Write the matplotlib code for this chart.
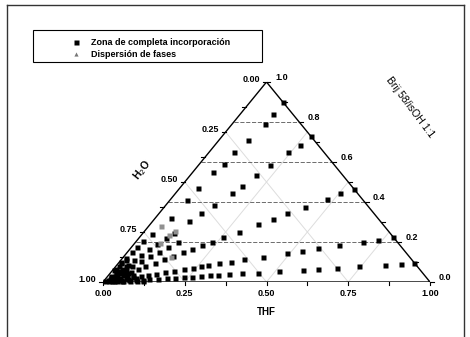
import numpy as np
import matplotlib.pyplot as plt
from matplotlib.lines import Line2D
from matplotlib.patches import Rectangle

plt.rcParams['font.family'] = ['Liberation Sans', 'DejaVu Sans']

# Compositions (mass fractions) of THF and Brij 58/isOH 1:1; water is the rest.
# Each series is one dilution line with water at a fixed THF:Brij ratio.
thf_r1 = [0.905, 0.865, 0.82, 0.745, 0.68, 0.625, 0.58, 0.51, 0.45, 0.405, 0.365, 0.335,
          0.31, 0.285, 0.26, 0.235, 0.21, 0.185, 0.16, 0.135, 0.115, 0.095, 0.075, 0.055,
          0.04, 0.025]
brij_r1 = [0.095, 0.09, 0.085, 0.078, 0.071, 0.066, 0.061, 0.054, 0.047, 0.043, 0.038, 0.035,
           0.033, 0.03, 0.027, 0.025, 0.022, 0.019, 0.017, 0.014, 0.012, 0.01, 0.008, 0.006,
           0.004, 0.003]

thf_r2 = [0.775, 0.735, 0.695, 0.63, 0.572, 0.53, 0.49, 0.426, 0.373, 0.34, 0.307, 0.278,
          0.262, 0.24, 0.215, 0.19, 0.165, 0.14, 0.12, 0.1, 0.08, 0.06, 0.045, 0.03, 0.015]
brij_r2 = [0.225, 0.21, 0.2, 0.185, 0.17, 0.156, 0.145, 0.126, 0.115, 0.1, 0.093, 0.085,
           0.078, 0.071, 0.064, 0.056, 0.049, 0.042, 0.036, 0.03, 0.024, 0.018, 0.013, 0.009,
           0.005]

thf_r3 = [0.535, 0.5, 0.476, 0.43, 0.39, 0.36, 0.33, 0.29, 0.254, 0.233, 0.21, 0.19, 0.17,
          0.15, 0.13, 0.11, 0.09, 0.075, 0.06, 0.045, 0.03, 0.015]
brij_r3 = [0.465, 0.447, 0.417, 0.377, 0.347, 0.317, 0.29, 0.25, 0.226, 0.2, 0.186, 0.165,
           0.148, 0.13, 0.113, 0.096, 0.078, 0.065, 0.052, 0.039, 0.026, 0.013]

thf_r4 = [0.27, 0.26, 0.242, 0.22, 0.2, 0.184, 0.17, 0.146, 0.127, 0.11, 0.094, 0.082, 0.07,
          0.06, 0.05, 0.04, 0.03, 0.02, 0.01]
brij_r4 = [0.73, 0.683, 0.648, 0.583, 0.533, 0.482, 0.447, 0.387, 0.347, 0.307, 0.246, 0.22,
           0.19, 0.163, 0.135, 0.108, 0.081, 0.054, 0.027]

thf_r5 = [0.1, 0.1, 0.1, 0.089, 0.077, 0.076, 0.062, 0.055, 0.05, 0.048, 0.03, 0.02, 0.016,
          0.013, 0.011, 0.009, 0.006]
brij_r5 = [0.9, 0.84, 0.79, 0.71, 0.65, 0.59, 0.55, 0.472, 0.412, 0.32, 0.24, 0.206, 0.176,
           0.15, 0.12, 0.095, 0.065]

thf_r6 = [0.13, 0.11, 0.095, 0.08, 0.065, 0.05, 0.035, 0.02]
brij_r6 = [0.2, 0.175, 0.15, 0.128, 0.105, 0.08, 0.056, 0.032]

# water-rich corner, where the dilution lines crowd together
thf_corner = [0.005, 0.01, 0.015, 0.02, 0.03, 0.01, 0.02, 0.04, 0.05, 0.06, 0.015, 0.03,
              0.045, 0.06, 0.07, 0.08, 0.005, 0.01, 0.025, 0.04, 0.1, 0.12, 0.005, 0.015,
              0.035, 0.055, 0.09, 0.075]
brij_corner = [0.005, 0.01, 0.02, 0.01, 0.005, 0.03, 0.04, 0.02, 0.01, 0.005, 0.05, 0.045,
               0.035, 0.025, 0.015, 0.005, 0.06, 0.08, 0.065, 0.06, 0.005, 0.003, 0.1, 0.11,
               0.085, 0.045, 0.02, 0.035]

# lighter points in the water-rich corner
thf_grey = [0.037, 0.084, 0.092, 0.076, 0.145]
brij_grey = [0.281, 0.236, 0.256, 0.196, 0.126]

# phase dispersion points (none in this set)
thf_disp = []
brij_disp = []

thf_ticks = [0.0, 0.25, 0.5, 0.75, 1.0]
h2o_ticks = [0.0, 0.25, 0.5, 0.75, 1.0]
brij_ticks = [0.0, 0.2, 0.4, 0.6, 0.8, 1.0]


def to_xy(thf, brij):
    thf = np.asarray(thf, dtype=float)
    brij = np.asarray(brij, dtype=float)
    return thf + brij / 2, brij


fig = plt.figure(figsize=(4.7, 3.37), dpi=100)
ax = fig.add_axes([103 / 470, 55 / 337, 327 / 470, 200 / 337])
ax.set_xlim(0, 1)
ax.set_ylim(0, 1)
ax.axis('off')

# light grid of constant THF and constant water
for c in [0.25, 0.5, 0.75]:
    x, y = to_xy([c, c], [0, 1 - c])
    ax.plot(x, y, color='#dddddd', lw=0.7, zorder=1)
    x, y = to_xy([1 - c, 0], [0, 1 - c])
    ax.plot(x, y, color='#dddddd', lw=0.7, zorder=1)

# dashed lines of constant Brij
for b in [0.2, 0.4, 0.6, 0.8]:
    x, y = to_xy([0, 1 - b], [b, b])
    ax.plot(x, y, color='#555555', lw=0.6, ls=(0, (5, 2)), zorder=1)

# triangle outline
x, y = to_xy([0, 1, 0, 0], [0, 0, 1, 0])
ax.plot(x, y, color='black', lw=1.0, zorder=2)

# ticks
for t in np.arange(0, 1.001, 0.125):
    ax.plot([t, t], [0, -0.015], color='black', lw=0.8, clip_on=False)
for w in np.arange(0, 1.001, 0.125):
    xe, ye = to_xy(0, 1 - w)
    ax.plot([xe, xe - 0.012], [ye, ye], color='black', lw=0.8, clip_on=False)
for b in np.arange(0, 1.001, 0.1):
    xe, ye = to_xy(1 - b, b)
    ax.plot([xe, xe + 0.012], [ye, ye], color='black', lw=0.8, clip_on=False)

lab = dict(fontsize=6.5, fontweight='bold', clip_on=False)
for t in thf_ticks:
    ax.text(t, -0.055, f'{t:.2f}', ha='center', va='center', **lab)
for w in h2o_ticks:
    xe, ye = to_xy(0, 1 - w)
    ax.text(xe - 0.02, ye + 0.012, f'{w:.2f}', ha='right', va='center', **lab)
for b in brij_ticks:
    xe, ye = to_xy(1 - b, b)
    ax.text(xe + 0.026, ye + 0.02, f'{b:.1f}', ha='left', va='center', **lab)

ax.text(0.5, -0.15, 'THF', ha='center', va='center', fontsize=7, fontweight='bold')
ax.text(0.12, 0.56, r'H$_2$O', ha='center', va='center', rotation=52,
        fontsize=7.5, fontweight='bold')
ax.text(0.94, 0.875, 'Brij 58/isOH 1:1', ha='center', va='center', rotation=-53,
        fontsize=7.5, clip_on=False)

# data
sq = dict(marker='s', ls='none', ms=3.6, mec='none', zorder=3, clip_on=False)
for thf, brij in [(thf_r1, brij_r1), (thf_r2, brij_r2), (thf_r3, brij_r3),
                  (thf_r4, brij_r4), (thf_r5, brij_r5), (thf_r6, brij_r6),
                  (thf_corner, brij_corner)]:
    x, y = to_xy(thf, brij)
    h_inc, = ax.plot(x, y, color='black', **sq)
x, y = to_xy(thf_grey, brij_grey)
ax.plot(x, y, color='#909090', **sq)
x, y = to_xy(thf_disp, brij_disp)
h_disp, = ax.plot(x, y, marker='^', ls='none', ms=3, color='#777777', mec='none')

ax.legend([h_inc, h_disp], ['Zona de completa incorporación', 'Dispersión de fases'],
          loc='upper left', bbox_to_anchor=(59 / 470, 1 - 30 / 337),
          bbox_transform=fig.transFigure, frameon=False, handlelength=2,
          handletextpad=0.6, labelspacing=0.3,
          prop={'size': 6.5, 'weight': 'bold'})
fig.patches.append(Rectangle((33 / 470, 1 - 62 / 337), 229 / 470, 32 / 337,
                             transform=fig.transFigure, fill=False, lw=0.8,
                             ec='black'))

# outer frame
for xs, ys in [([7, 7], [5, 337]), ([7, 464], [5, 5]), ([464, 464], [5, 337])]:
    fig.lines.append(Line2D([v / 470 for v in xs], [1 - v / 337 for v in ys],
                            transform=fig.transFigure, color='#333333', lw=1.0))

fig.savefig('out.png', dpi=100)
